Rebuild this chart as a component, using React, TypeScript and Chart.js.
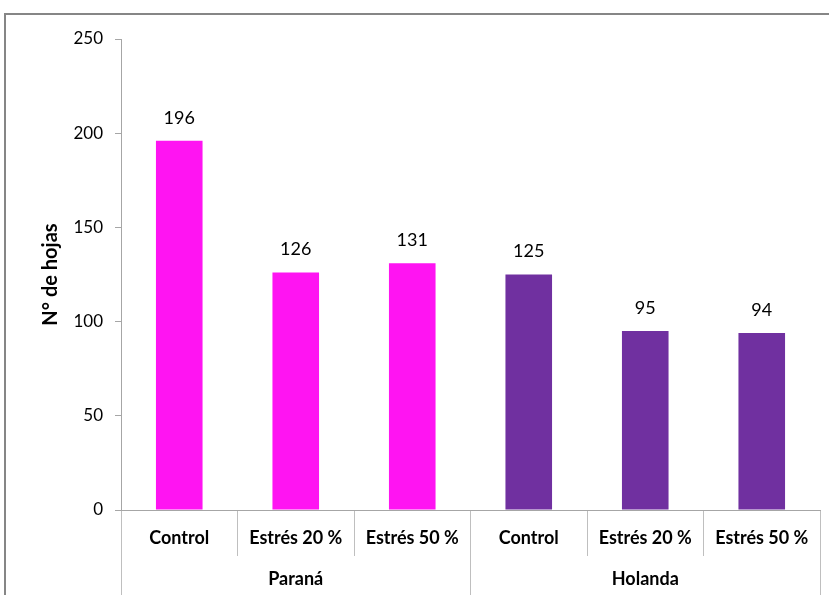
import { useEffect, useRef } from 'react';
import { Chart, registerables } from 'chart.js';
Chart.register(...registerables);

const categories = ['Control', 'Estrés 20 %', 'Estrés 50 %', 'Control', 'Estrés 20 %', 'Estrés 50 %'];
const groups = ['Paraná', 'Holanda'];
const values = [196, 126, 131, 125, 95, 94];
const barColors = ['#FF14F2', '#FF14F2', '#FF14F2', '#7030A0', '#7030A0', '#7030A0'];
const yTicks = [0, 50, 100, 150, 200, 250];
const yTitle = 'N° de hojas';

const FONT = 'Lato';

const dataLabelPlugin = {
  id: 'dataLabels',
  afterDatasetsDraw(chart: any) {
    const ctx = chart.ctx;
    const meta = chart.getDatasetMeta(0);
    ctx.save();
    ctx.font = `18px ${FONT}`;
    ctx.fillStyle = '#000';
    ctx.textAlign = 'center';
    ctx.textBaseline = 'middle';
    meta.data.forEach((bar: any, i: number) => {
      ctx.fillText(String(values[i]), bar.x, bar.y - 23);
    });
    ctx.restore();
  },
};

export default function App() {
  const ref = useRef<HTMLCanvasElement>(null);
  useEffect(() => {
    if (!ref.current) return;
    const chart = new Chart(ref.current, {
      type: 'bar',
      data: {
        labels: categories,
        datasets: [
          {
            data: values,
            backgroundColor: barColors,
            barPercentage: 0.4,
            categoryPercentage: 1,
            xAxisID: 'x',
          },
        ],
      },
      options: {
        responsive: false,
        animation: false,
        layout: { padding: { top: 39, right: 9, bottom: 0, left: 0 } },
        plugins: { legend: { display: false }, tooltip: { enabled: false } },
        scales: {
          x: {
            type: 'category',
            position: 'bottom',
            offset: true,
            grid: { offset: true, drawOnChartArea: false, tickLength: 46, color: '#bfbfbf', lineWidth: 1 },
            border: { display: true, color: '#a6a6a6' },
            ticks: { font: { family: FONT, size: 18, weight: 'bold' }, color: '#000', padding: -29, maxRotation: 0, autoSkip: false },
            afterFit: (s: any) => { s.height = 46; },
          },
          x2: {
            type: 'category',
            labels: groups,
            position: 'bottom',
            offset: true,
            grid: { offset: true, drawOnChartArea: false, tickLength: 45, color: '#bfbfbf', lineWidth: 1 },
            border: { display: false },
            ticks: { font: { family: FONT, size: 18, weight: 'bold' }, color: '#000', padding: -33, maxRotation: 0, autoSkip: false },
            afterFit: (s: any) => { s.height = 39; },
          },
          y: {
            min: 0,
            max: 250,
            afterBuildTicks: (s: any) => { s.ticks = yTicks.map((v) => ({ value: v })); },
            ticks: { font: { family: FONT, size: 17 }, color: '#000', padding: 12 },
            grid: { drawOnChartArea: false, tickLength: 6, color: '#a6a6a6' },
            border: { color: '#a6a6a6' },
            title: { display: true, text: yTitle, font: { family: FONT, size: 20, weight: 'bold' }, color: '#000', padding: { top: 39, bottom: 0 } },
            afterFit: (s: any) => { s.width = 121; },
          },
        },
      } as any,
      plugins: [dataLabelPlugin],
    });
    return () => chart.destroy();
  }, []);
  return (
    <div style={{ position: 'fixed', left: 0, top: 0, width: 829, height: 595, background: '#fff', overflow: 'hidden' }}>
      <div style={{ position: 'absolute', left: 4, top: 13, width: 1000, height: 1000, border: '2px solid #868686' }} />
      <canvas ref={ref} width={829} height={595} style={{ position: 'absolute', left: 0, top: 0, width: 829, height: 595 }} />
    </div>
  );
}
